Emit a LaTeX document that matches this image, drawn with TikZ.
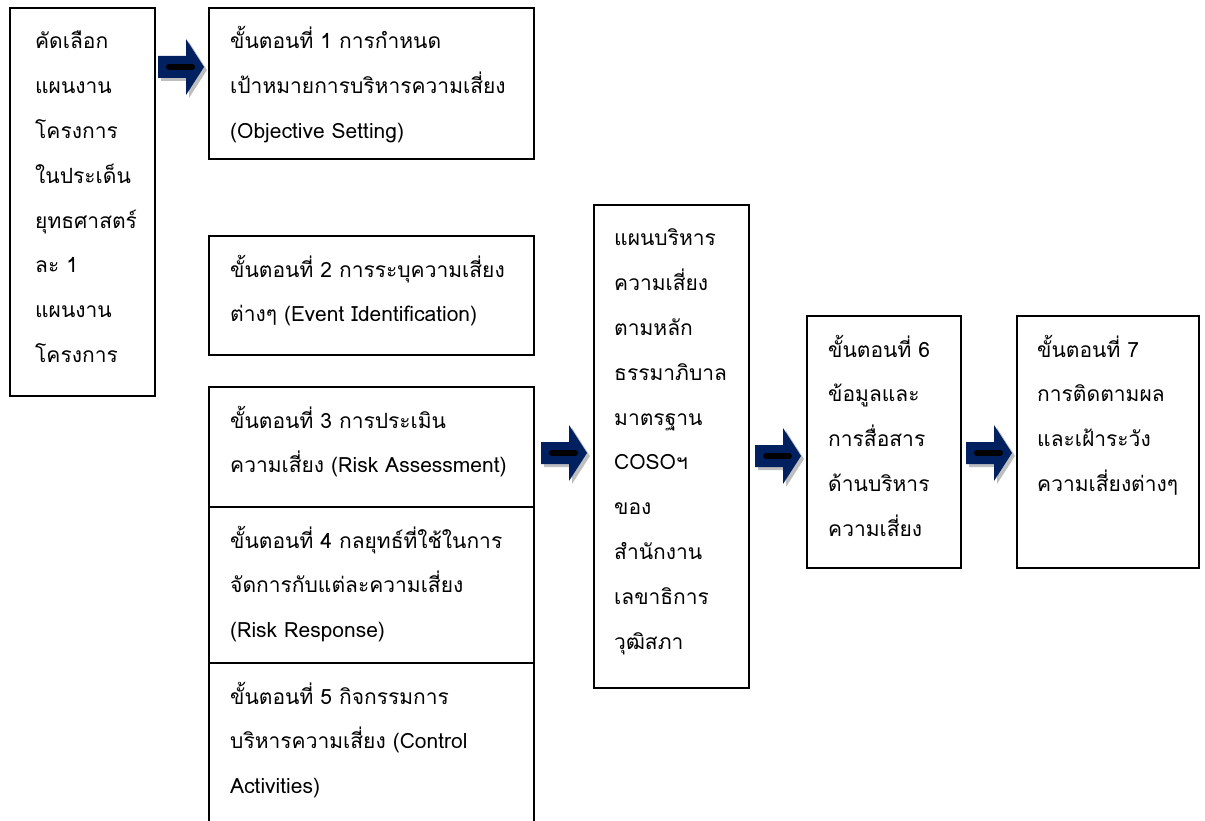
\documentclass[tikz,border=0pt]{standalone}
\usepackage{fontspec}
\setmainfont{Loma}[Script=Thai]
\usepackage{xcolor}
\definecolor{arrowblue}{RGB}{0,32,96}
\definecolor{shadowgray}{RGB}{190,190,190}

\tikzset{
	box/.style={draw, line width=1.4pt, rectangle, anchor=north west, inner sep=0pt, outer sep=0pt},
	boxtext/.style={anchor=base west, align=left, text width=320, inner sep=0pt, font=\fontsize{21}{44.8}\selectfont},
	blockarrow/.pic={
		\fill[shadowgray] (3,-8) -- (31,-8) -- (31,-25) -- (49,3) -- (31,31) -- (31,14) -- (3,14) -- cycle;
		\fill[arrowblue] (0,-11) -- (28,-11) -- (28,-28) -- (46,0) -- (28,28) -- (28,11) -- (0,11) -- cycle;
		\draw[black, line width=6pt, line cap=round] (11,0) -- (34,0);
	}
}

\begin{document}
\begin{tikzpicture}[x=1pt, y=-1pt]
	\useasboundingbox (0,0) rectangle (1205,821);
	% boxes
	\node (sel) [box, minimum width=145, minimum height=388] at (10, 8) {};
	\node (s1) [box, minimum width=325, minimum height=151] at (209, 8) {};
	\node (s2) [box, minimum width=325, minimum height=119] at (209, 236) {};
	\node (s3) [box, minimum width=325, minimum height=120] at (209, 387) {};
	\node (s4) [box, minimum width=325, minimum height=156] at (209, 507) {};
	\node (s5) [box, minimum width=325, minimum height=180] at (209, 663) {};
	\node (plan) [box, minimum width=155, minimum height=483] at (594, 205) {};
	\node (s6) [box, minimum width=154, minimum height=252] at (807, 316) {};
	\node (s7) [box, minimum width=182, minimum height=252] at (1017, 316) {};
	% texts
	\node (sel-t) [boxtext] at (35, 49) {คัดเลือก\\แผนงาน\\โครงการ\\ในประเด็น\\ยุทธศาสตร์\\ละ 1\\แผนงาน\\โครงการ};
	\node (s1-t) [boxtext] at (230, 49) {ขั้นตอนที่ 1 การกำหนด\\เป้าหมายการบริหารความเสี่ยง\\(Objective Setting)};
	\node (s2-t) [boxtext] at (230, 277) {ขั้นตอนที่ 2 การระบุความเสี่ยง\\ต่างๆ (Event Identification)};
	\node (s3-t) [boxtext] at (230, 428) {ขั้นตอนที่ 3 การประเมิน\\ความเสี่ยง (Risk Assessment)};
	\node (s4-t) [boxtext] at (230, 548) {ขั้นตอนที่ 4 กลยุทธ์ที่ใช้ในการ\\จัดการกับแต่ละความเสี่ยง\\(Risk Response)};
	\node (s5-t) [boxtext] at (230, 704) {ขั้นตอนที่ 5 กิจกรรมการ\\บริหารความเสี่ยง (Control\\Activities)};
	\node (plan-t) [boxtext] at (614, 246) {แผนบริหาร\\ความเสี่ยง\\ตามหลัก\\ธรรมาภิบาล\\มาตรฐาน\\COSOฯ\\ของ\\สำนักงาน\\เลขาธิการ\\วุฒิสภา};
	\node (s6-t) [boxtext] at (828, 357) {ขั้นตอนที่ 6\\ข้อมูลและ\\การสื่อสาร\\ด้านบริหาร\\ความเสี่ยง};
	\node (s7-t) [boxtext] at (1037, 357) {ขั้นตอนที่ 7\\การติดตามผล\\และเฝ้าระวัง\\ความเสี่ยงต่างๆ};
	% block arrows
	\pic at (158, 67) {blockarrow};
	\pic at (541, 453) {blockarrow};
	\pic at (755, 456) {blockarrow};
	\pic at (966, 453) {blockarrow};
\end{tikzpicture}
\end{document}
